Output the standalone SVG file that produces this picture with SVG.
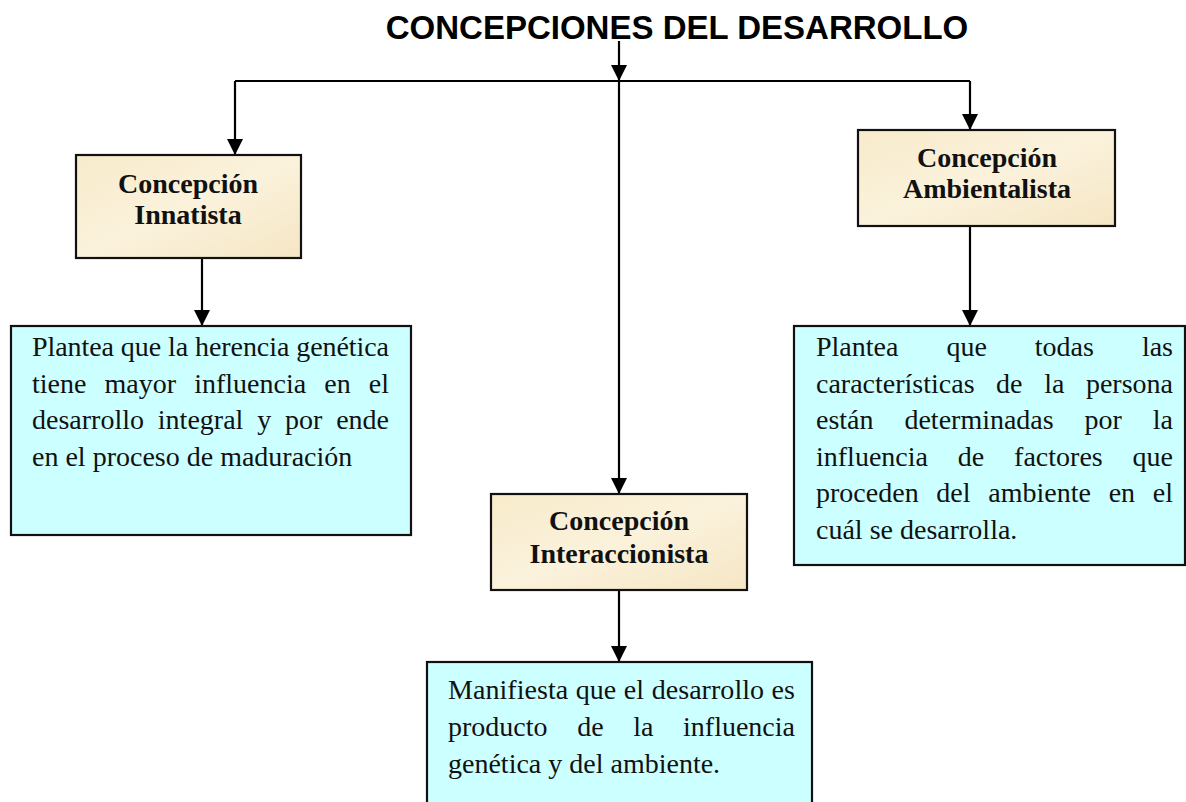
<svg xmlns="http://www.w3.org/2000/svg" width="1186" height="802" viewBox="0 0 1186 802">
<style>
.title{font-family:"Liberation Sans",Arial,sans-serif;font-weight:bold;font-size:33px;fill:#000}
.head{font-family:"Liberation Serif","Times New Roman",serif;font-weight:bold;font-size:28px;fill:#111;text-anchor:middle}
.body{font-family:"Liberation Serif","Times New Roman",serif;font-size:28px;fill:#111}
.beige{fill:url(#parch);stroke:#111;stroke-width:2.2}
.blue{fill:#CCFFFF;stroke:#111;stroke-width:2.2}
.conn{fill:none;stroke:#000;stroke-width:2.2}
</style>
<defs>
<linearGradient id="parch" x1="0" y1="0" x2="1" y2="1">
<stop offset="0" stop-color="#F8EBCB"/>
<stop offset="0.5" stop-color="#FBF2DC"/>
<stop offset="1" stop-color="#F5E6C4"/>
</linearGradient>
<marker id="arr" viewBox="0 0 16 16" markerUnits="userSpaceOnUse" markerWidth="16" markerHeight="16" refX="15" refY="8" orient="auto">
<path d="M0,0 L16,8 L0,16 z" fill="#000"/>
</marker>
</defs>
<rect width="1186" height="802" fill="#fff"/>
<text class="title" x="677" y="39" text-anchor="middle">CONCEPCIONES DEL DESARROLLO</text>

<g id="connectors">
<path class="conn" d="M619,41 V80" marker-end="url(#arr)"/>
<path class="conn" d="M235,81 H970"/>
<path class="conn" d="M235,81 V154" marker-end="url(#arr)"/>
<path class="conn" d="M970,81 V129" marker-end="url(#arr)"/>
<path class="conn" d="M619,81 V493" marker-end="url(#arr)"/>
<path class="conn" d="M202,258 V325" marker-end="url(#arr)"/>
<path class="conn" d="M970,226 V325" marker-end="url(#arr)"/>
<path class="conn" d="M619,590 V661" marker-end="url(#arr)"/>
</g>

<g id="innatista">
<rect class="beige" x="76" y="155" width="225" height="103"/>
<text class="head" x="188" y="193">Concepción</text>
<text class="head" x="188" y="224">Innatista</text>
</g>

<g id="ambientalista">
<rect class="beige" x="858" y="130" width="257" height="96"/>
<text class="head" x="987" y="167">Concepción</text>
<text class="head" x="987" y="198">Ambientalista</text>
</g>

<g id="interaccionista">
<rect class="beige" x="491" y="494" width="256" height="96"/>
<text class="head" x="619" y="530">Concepción</text>
<text class="head" x="619" y="563">Interaccionista</text>
</g>

<g id="innatista-desc">
<rect class="blue" x="11" y="326" width="400" height="209"/>
<text class="body" x="32" y="356" textLength="357" lengthAdjust="spacing">Plantea que la herencia genética</text>
<text class="body" x="32" y="392.5" word-spacing="11" textLength="357" lengthAdjust="spacing">tiene mayor influencia en el</text>
<text class="body" x="32" y="429" word-spacing="6.8" textLength="357" lengthAdjust="spacing">desarrollo integral y por ende</text>
<text class="body" x="32" y="465.5">en el proceso de maduración</text>
</g>

<g id="ambientalista-desc">
<rect class="blue" x="794" y="326" width="391" height="239"/>
<text class="body" x="816" y="356" word-spacing="41" textLength="357" lengthAdjust="spacing">Plantea que todas las</text>
<text class="body" x="816" y="392.5" word-spacing="14.6" textLength="357" lengthAdjust="spacing">características de la persona</text>
<text class="body" x="816" y="429" word-spacing="23.9" textLength="357" lengthAdjust="spacing">están determinadas por la</text>
<text class="body" x="816" y="465.5" word-spacing="22.8" textLength="357" lengthAdjust="spacing">influencia de factores que</text>
<text class="body" x="816" y="502" word-spacing="10.7" textLength="357" lengthAdjust="spacing">proceden del ambiente en el</text>
<text class="body" x="816" y="538.5">cuál se desarrolla.</text>
</g>

<g id="interaccionista-desc">
<rect class="blue" x="427" y="662" width="385" height="150"/>
<text class="body" x="448" y="699" word-spacing="0.5" textLength="347" lengthAdjust="spacing">Manifiesta que el desarrollo es</text>
<text class="body" x="448" y="736" word-spacing="22.6" textLength="347" lengthAdjust="spacing">producto de la influencia</text>
<text class="body" x="448" y="773">genética y del ambiente.</text>
</g>
</svg>
